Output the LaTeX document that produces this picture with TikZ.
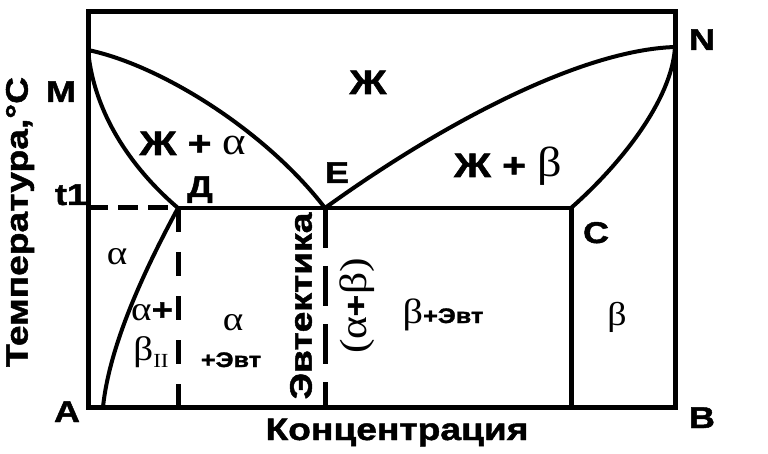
\documentclass[tikz,border=0pt]{standalone}
\usepackage{fontspec}
\setmainfont{Liberation Sans}[FakeStretch=1.2, BoldFeatures={FakeBold=1.5}]
\newfontfamily\grkfont{Liberation Serif}[FakeStretch=1.15]
\usetikzlibrary{positioning}
\newcommand{\gk}[2]{{\fontsize{#1}{#1}\selectfont\grkfont\mdseries #2}}
\tikzset{
  frame/.style={line width=5pt},
  phline/.style={line width=4pt},
  dashline/.style={line width=5pt, dash pattern=on 20pt off 10pt},
  dashvert/.style={line width=5pt, dash pattern=on 24pt off 20pt},
  eutline/.style={line width=5pt, dash pattern=on 40pt off 18pt},
  lbl/.style={font=\fontsize{30}{30}\selectfont\bfseries, inner sep=0pt, anchor=base},
  phs/.style={font=\fontsize{34}{34}\selectfont\bfseries, inner sep=0pt, anchor=base},
  axl/.style={font=\fontsize{31}{31}\selectfont\bfseries, inner sep=0pt},
  sml/.style={font=\fontsize{21}{21}\selectfont\bfseries, inner sep=0pt, anchor=base},
}
\begin{document}
\begin{tikzpicture}[x=1pt, y=-1pt]
  \useasboundingbox (0,0) rectangle (768,454);
  % key points of the diagram
  \coordinate (A) at (88,407);
  \coordinate (B) at (675,407);
  \coordinate (top) at (675,12);
  \coordinate (M) at (88,50);
  \coordinate (N) at (675,47);
  \coordinate (E) at (325,208);
  \coordinate (D) at (178,208);
  \coordinate (C) at (571,208);
  \coordinate (T) at (88,208);
  \coordinate (S) at (103,407);
  % frame
  \draw[frame] (A) rectangle (top);
  % liquidus and solidus
  \draw[phline] (M) .. controls (95,125) and (145,180) .. (D);
  \draw[phline] (M) .. controls (160,65) and (265,130) .. (E);
  \draw[phline] (E) .. controls (440,125) and (580,50) .. (N);
  \draw[phline] (N) .. controls (672,100) and (620,165) .. (C);
  \draw[phline] (D) .. controls (150,260) and (110,340) .. (S);
  \draw[phline] (D) -- (C);
  \draw[frame] (C) -- (C |- A);
  % dashed lines
  \draw[dashline] (T) -- (D);
  \draw[dashvert] (D) -- (D |- A);
  \draw[eutline] (E) -- (E |- A);
  % point labels
  \node[lbl] (lM) at (61,102) {M};
  \node[lbl] (lN) at (702,50) {N};
  \node[lbl] (lE) at (337,183) {E};
  \node[lbl] (lD) at (200,197) {Д};
  \node[lbl] (lt) at (71,205) {t1};
  \node[lbl] (lC) at (596,243) {C};
  \node[lbl] (lA) at (67,422) {A};
  \node[lbl] (lB) at (702,428) {B};
  % phase regions
  \node[phs] (liq) at (368,94) {Ж};
  \node[phs] (liqa) at (193,155) {Ж + \gk{39}{α}};
  \node[phs] (liqb) at (508,177) {Ж + \gk{42}{β}};
  \node[lbl] (a1) at (117,265) {\gk{34}{α}};
  \node[lbl] (a2) at (152,320) {\gk{34}{α}+};
  \node[lbl] (b2) at (151,360) {\gk{34}{β}\raisebox{-7pt}{\gk{20}{II}}};
  \node[lbl] (a3) at (233,330) {\gk{34}{α}};
  \node[sml] (ev1) at (231,367) {+Эвт};
  \node[sml] (ev2) at (443,323) {\gk{35}{β}+Эвт};
  \node[lbl] (b3) at (617,325) {\gk{33}{β}};
  \node[axl, rotate=90] (eut) at (301,306) {Эвтектика};
  \node[axl, rotate=90] (eutab) at (357,306) {\gk{38}{(α}+\gk{38}{β)}};
  % axis titles
  \node[axl, rotate=90] (ylab) at (20,222) {Температура,°С};
  \node[axl, anchor=base] (xlab) at (397,440) {Концентрация};
\end{tikzpicture}
\end{document}
